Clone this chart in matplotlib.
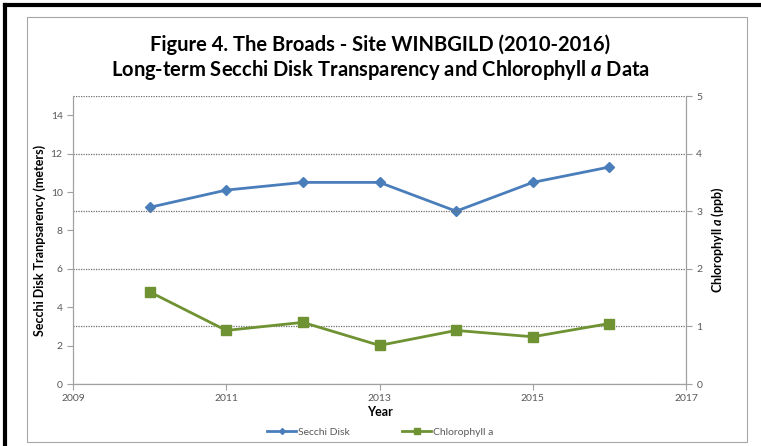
import matplotlib

matplotlib.use("Agg")
import matplotlib.pyplot as plt
from matplotlib.patches import Rectangle
from matplotlib.lines import Line2D

years = [2010, 2011, 2012, 2013, 2014, 2015, 2016]
secchi = [9.2, 10.1, 10.5, 10.5, 9.0, 10.5, 11.3]
chlorophyll = [1.6, 0.93, 1.07, 0.67, 0.93, 0.82, 1.05]
x_ticks = [2009, 2011, 2013, 2015, 2017]
left_ticks = [0, 2, 4, 6, 8, 10, 12, 14]
right_ticks = [0, 1, 2, 3, 4, 5]

plt.rcParams["font.family"] = ["Lato", "DejaVu Sans"]
plt.rcParams["mathtext.fontset"] = "custom"
plt.rcParams["mathtext.it"] = "Lato:italic:bold"
plt.rcParams["mathtext.rm"] = "Lato:bold"

blue = "#4A7EBB"
green = "#6F9232"
tick_col = "#595959"
axis_col = "#A0A0A0"

fig = plt.figure(figsize=(7.61, 4.46), dpi=100)
W, H = 761, 446

# outer frame: thick black lines top & left, grey inner chart border
fig.add_artist(Line2D([5 / W, 5 / W], [0, 1 - 5 / H], color="black", lw=3, transform=fig.transFigure))
fig.add_artist(Line2D([5 / W, 1], [1 - 5 / H, 1 - 5 / H], color="black", lw=3, transform=fig.transFigure))
fig.add_artist(Rectangle((27 / W, 4 / H), 720 / W, 425 / H, fill=False, ec="#A6A6A6", lw=0.8,
                         transform=fig.transFigure))

ax = fig.add_axes([73 / W, 1 - 384 / H, (686 - 73) / W, (384 - 96) / H])
ax2 = ax.twinx()

ax.plot(years, secchi, color=blue, lw=2.0, marker="D", ms=5, label="Secchi Disk", zorder=3)
ax2.plot(years, chlorophyll, color=green, lw=2.0, marker="s", ms=7, label="Chlorophyll a", zorder=3)

ax.set_xlim(2009, 2017)
ax.set_ylim(0, 15)
ax2.set_ylim(0, 5)
ax.set_xticks(x_ticks)
ax.set_yticks(left_ticks)
ax2.set_yticks(right_ticks)
ax2.yaxis.grid(True, color="#6F6F6F", ls=(0, (1, 1)), lw=0.9)
ax2.set_axisbelow(True)

for a in (ax, ax2):
    a.tick_params(labelsize=7.5, colors=tick_col, length=4, width=0.8)
    a.tick_params(axis="y", color=axis_col)
    a.tick_params(axis="x", color=axis_col)
    for s in a.spines.values():
        s.set_color(axis_col)
    a.spines["top"].set_visible(False)

ax.set_xlabel("Year", fontsize=9, fontweight="bold", labelpad=2)
ax.set_ylabel("Secchi Disk Tranpsarency (meters)", fontsize=9, fontweight="bold", labelpad=3)
ax2.set_ylabel(r"Chlorophyll $\mathit{a}$ (ppb)", fontsize=9, fontweight="bold", labelpad=5)

fig.text(0.5, 1 - 45 / H, "Figure 4. The Broads - Site WINBGILD (2010-2016)",
         ha="center", va="center", fontsize=14.5, fontweight="bold")
fig.text(0.5, 1 - 70 / H, r"Long-term Secchi Disk Transparency and Chlorophyll $\mathit{a}$ Data",
         ha="center", va="center", fontsize=14.5, fontweight="bold")

h1, l1 = ax.get_legend_handles_labels()
h2, l2 = ax2.get_legend_handles_labels()
fig.legend(h1 + h2, l1 + l2, loc="center", bbox_to_anchor=(0.5, 1 - 432 / H), ncol=2,
           frameon=False, fontsize=7.5, handlelength=2.8, columnspacing=5, handletextpad=0.2,
           markerscale=0.6, labelcolor=tick_col)

fig.savefig("out.png", dpi=100)
